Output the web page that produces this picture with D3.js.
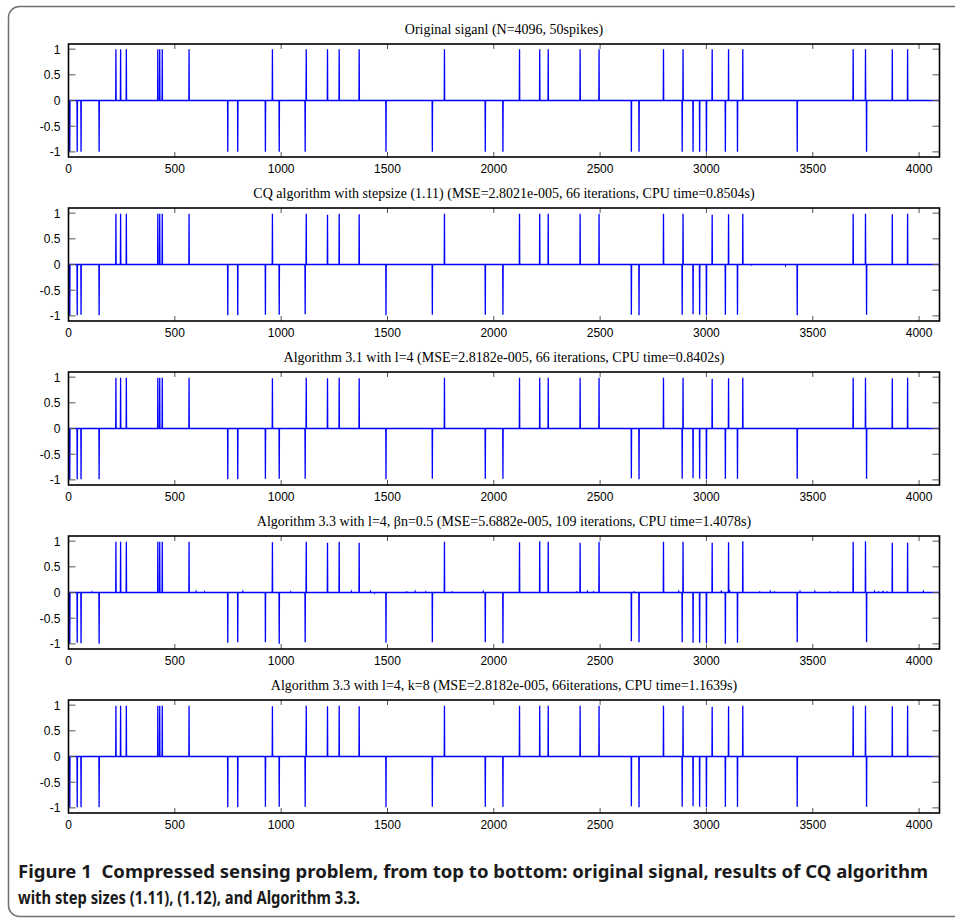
<!DOCTYPE html>
<html>
  <head>
    <title>Compressed sensing spikes</title>
    <script src="https://d3js.org/d3.v7.min.js"></script>
  </head>
  <body style="margin:0;background:#fff">
    <svg class="fig" width="955" height="922"></svg>
    <script>
// Spike positions (sample index) shared by all panels
var spikePos = [6, 41, 59, 144, 223, 245, 272, 420, 429, 441, 567, 749, 796, 926, 959, 991,
    1113, 1118, 1218, 1273, 1367, 1493, 1711, 1768, 1960, 2043, 2121, 2216, 2256, 2406, 2495,
    2647, 2683, 2798, 2886, 2890, 2937, 2968, 3000, 3027, 3089, 3104, 3146, 3171, 3427, 3690,
    3748, 3753, 3874, 3946];

// Spike values for each panel
var origVals = [-1, -1, -1, -1, 1, 1, 1, 1, 1, 1, 1, -1, -1, -1, 1, -1, -1, 1, 1, 1, 1, -1, -1, 1,
    -1, -1, 1, 1, 1, 1, 1, -1, -1, 1, -1, 1, -1, -1, -1, 1, -1, 1, -1, 1, -1, 1, 1, -1, 1, 1];
var cq111Vals = [-1, -0.99, -0.98, -0.99, 0.99, 0.99, 0.99, 0.99, 0.99, 0.99, 0.99, -0.99, -0.99,
    -0.98, 0.99, -0.98, -0.97, 0.99, 0.97, 0.99, 0.98, -0.99, -0.98, 0.99, -0.98, -0.98, 0.99,
    0.99, 0.99, 0.99, 0.99, -0.98, -0.99, 0.99, -0.98, 0.99, -0.97, -0.98, -0.99, 0.97, -0.98,
    0.98, -0.98, 0.99, -0.99, 0.99, 0.99, -0.98, 0.98, 0.99];
var alg31Vals = [-1, -0.99, -0.99, -0.99, 0.99, 0.99, 0.99, 0.99, 0.99, 0.99, 0.99, -0.99, -0.99,
    -0.98, 0.98, -0.98, -0.98, 0.99, 0.98, 0.99, 0.98, -0.99, -0.98, 0.99, -0.98, -0.98, 0.99,
    0.99, 0.99, 0.99, 0.99, -0.97, -0.99, 0.99, -0.98, 0.99, -0.97, -0.98, -0.99, 0.97, -0.98,
    0.98, -0.98, 0.99, -0.98, 0.99, 0.99, -0.98, 0.98, 0.99];
var alg33bVals = [-1, -0.98, -0.99, -1, 0.99, 0.99, 0.99, 0.99, 0.99, 0.99, 0.99, -0.98, -0.97,
    -0.97, 0.98, -1, -0.97, 0.99, 0.97, 0.99, 0.97, -0.98, -0.97, 0.99, -0.97, -0.99, 0.98,
    1, 0.99, 0.97, 0.99, -0.95, -0.97, 0.99, -0.97, 0.99, -0.98, -0.98, -0.99, 0.97, -1,
    0.98, -0.98, 1, -0.97, 0.99, 1, -0.97, 0.97, 0.97];
var alg33kVals = [-1, -0.99, -0.99, -0.99, 0.99, 0.99, 0.99, 0.99, 0.99, 0.99, 0.99, -0.99, -0.99,
    -0.98, 0.98, -0.98, -0.98, 0.99, 0.98, 0.99, 0.98, -0.99, -0.98, 0.99, -0.98, -0.98, 0.99,
    0.99, 0.99, 0.99, 0.99, -0.97, -0.99, 0.99, -0.98, 0.99, -0.97, -0.98, -0.99, 0.97, -0.98,
    0.98, -0.98, 0.99, -0.98, 0.99, 0.99, -0.98, 0.98, 0.99];

// small residual blips near zero [index, value]
var cq111Blips = [[3212, -0.02], [3372, -0.015]];
var alg33bBlips = [[110, 0.01], [600, 0.015], [640, 0.01], [820, 0.015], [1045, 0.01],
    [1330, 0.015], [1420, 0.015], [1440, -0.01], [1590, 0.02], [1630, 0.015], [1680, 0.01],
    [1805, 0.02], [1950, 0.015], [2390, 0.02], [2440, 0.015], [2470, 0.01], [2660, 0.02],
    [2870, 0.015], [3070, 0.04], [3110, 0.015], [3250, 0.02], [3300, 0.015], [3320, 0.02],
    [3440, 0.015], [3510, 0.015], [3580, 0.02], [3620, 0.02], [3790, 0.015], [3810, 0.02],
    [3830, 0.03], [3850, 0.02], [4020, 0.015]];

var titles = [
    "Original siganl (N=4096, 50spikes)",
    "CQ algorithm with stepsize (1.11) (MSE=2.8021e-005, 66 iterations, CPU time=0.8504s)",
    "Algorithm 3.1 with l=4 (MSE=2.8182e-005, 66 iterations, CPU time=0.8402s)",
    "Algorithm 3.3 with l=4, \u03B2n=0.5 (MSE=5.6882e-005, 109 iterations, CPU time=1.4078s)",
    "Algorithm 3.3 with l=4, k=8 (MSE=2.8182e-005, 66iterations, CPU time=1.1639s)"
];
var panelVals = [origVals, cq111Vals, alg31Vals, alg33bVals, alg33kVals];
var panelBlips = [[], cq111Blips, [], alg33bBlips, []];

var xTicks = [0, 500, 1000, 1500, 2000, 2500, 3000, 3500, 4000];
var yTicks = [-1, -0.5, 0, 0.5, 1];
var N = 4096;

var svg = d3.select("svg.fig");

// outer frame
svg.append("rect")
    .attr("x", 8.5).attr("y", 6.5)
    .attr("width", 980).attr("height", 910)
    .attr("rx", 11)
    .attr("fill", "none")
    .attr("stroke", "#707070")
    .attr("stroke-width", 1.5);

var left = 68.5, right = 939.5, plotH = 113;
var tops = [44, 208, 372, 536, 700];

var x = d3.scaleLinear().domain([0, N]).range([left, right]);

function buildPoints(vals, blips) {
    var ev = spikePos.map(function (p, i) { return [p, vals[i]]; }).concat(blips);
    ev.sort(function (a, b) { return a[0] - b[0]; });
    var pts = [[1, 0]];
    ev.forEach(function (e) {
        pts.push([e[0] - 1, 0], [e[0], e[1]], [e[0] + 1, 0]);
    });
    pts.push([N, 0]);
    return pts;
}

tops.forEach(function (top, i) {
    var y = d3.scaleLinear().domain([-1.1, 1.1]).range([top + plotH, top]);
    var g = svg.append("g");

    var line = d3.line()
        .x(function (d) { return x(d[0]); })
        .y(function (d) { return y(d[1]); });

    g.append("path")
        .datum(buildPoints(panelVals[i], panelBlips[i]))
        .attr("d", line)
        .attr("fill", "none")
        .attr("stroke", "#0000ff")
        .attr("stroke-width", 1.3);

    // ticks inside on all four sides
    var tk = g.append("g").attr("stroke", "#555").attr("stroke-width", 1);
    xTicks.forEach(function (t) {
        tk.append("line").attr("x1", x(t)).attr("x2", x(t))
            .attr("y1", top + plotH).attr("y2", top + plotH - 5);
        tk.append("line").attr("x1", x(t)).attr("x2", x(t))
            .attr("y1", top).attr("y2", top + 5);
    });
    yTicks.forEach(function (t) {
        tk.append("line").attr("x1", left).attr("x2", left + 7)
            .attr("y1", y(t)).attr("y2", y(t));
        tk.append("line").attr("x1", right).attr("x2", right - 7)
            .attr("y1", y(t)).attr("y2", y(t));
    });

    // box
    g.append("rect")
        .attr("x", left).attr("y", top)
        .attr("width", right - left).attr("height", plotH)
        .attr("fill", "none")
        .attr("stroke", "#000")
        .attr("stroke-width", 1.6);

    // tick labels
    g.selectAll(".xl").data(xTicks).enter().append("text")
        .attr("x", function (d) { return x(d); })
        .attr("y", top + plotH + 16)
        .attr("text-anchor", "middle")
        .attr("font-family", "Liberation Sans, Arial, sans-serif")
        .attr("font-size", 12)
        .text(function (d) { return d; });
    g.selectAll(".yl").data(yTicks).enter().append("text")
        .attr("x", left - 8)
        .attr("y", function (d) { return y(d) + 4.5; })
        .attr("text-anchor", "end")
        .attr("font-family", "Liberation Sans, Arial, sans-serif")
        .attr("font-size", 12)
        .text(function (d) { return d; });

    g.append("text")
        .attr("x", (left + right) / 2)
        .attr("y", top - 10)
        .attr("text-anchor", "middle")
        .attr("font-family", "Liberation Serif, Times New Roman, serif")
        .attr("font-size", 14)
        .text(titles[i]);
});

// caption
var cap = svg.append("g")
    .attr("font-family", "Noto Sans, Open Sans, sans-serif")
    .attr("font-weight", "bold")
    .attr("font-size", 18.5)
    .attr("fill", "#1a1a1a");
cap.append("text").attr("x", 18).attr("y", 878)
    .attr("textLength", 910).attr("lengthAdjust", "spacingAndGlyphs")
    .text("Figure 1\u00A0\u00A0Compressed sensing problem, from top to bottom: original signal, results of CQ algorithm");
cap.append("text").attr("x", 18).attr("y", 904)
    .attr("textLength", 342).attr("lengthAdjust", "spacingAndGlyphs")
    .text("with step sizes (1.11), (1.12), and Algorithm 3.3.");
</script>
  </body>
</html>
